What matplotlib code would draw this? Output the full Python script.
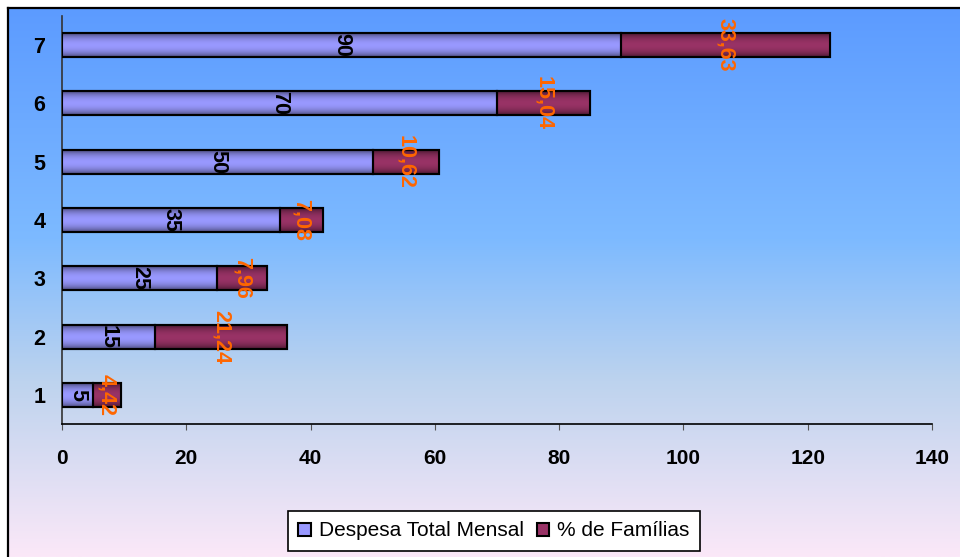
import numpy as np
import matplotlib
matplotlib.use('Agg')
import matplotlib.pyplot as plt
from matplotlib.colors import LinearSegmentedColormap, to_rgb

# Data
categories = ['1', '2', '3', '4', '5', '6', '7']
despesa = [5, 15, 25, 35, 50, 70, 90]
familias = [4.42, 21.24, 7.96, 7.08, 10.62, 15.04, 33.63]
x_ticks = [0, 20, 40, 60, 80, 100, 120, 140]
series_names = ['Despesa Total Mensal', '% de Famílias']

plt.rcParams['font.family'] = ['Liberation Sans', 'DejaVu Sans']

fig = plt.figure(figsize=(9.6, 5.57), dpi=100)
fig.patch.set_facecolor('white')

# Gradient background with the outer frame
bg = fig.add_axes([8/960, 0, 1 - 8/960, 1 - 8/557], zorder=0)
bg_cmap = LinearSegmentedColormap.from_list('bg', [
    (0.0, '#5C9BFF'), (0.42, '#7DBAFF'), (0.68, '#BDD3EE'), (1.0, '#FBE8F8')])
bg.imshow(np.linspace(0, 1, 256).reshape(-1, 1), cmap=bg_cmap, aspect='auto',
          extent=[0, 1, 0, 1])
bg.set_xlim(0, 1)
bg.set_ylim(0, 1)
bg.set_xticks([])
bg.set_yticks([])
bg.spines['right'].set_visible(False)
bg.spines['bottom'].set_visible(False)
bg.spines['top'].set_linewidth(1.6)
bg.spines['left'].set_linewidth(1.6)

ax = fig.add_axes([62/960, 1 - 424/557, 870/960, 408/557], zorder=1)
ax.set_facecolor('none')

y = np.arange(1, len(categories) + 1)
h = 0.41
colors = ['#9999FF', '#993366']


def shade(rects, color):
    base = np.array(to_rgb(color))
    t = np.linspace(0, 1, 64)
    prof = 0.55 + 0.45 * np.sin(np.pi * np.clip(t * 1.1 - 0.05, 0, 1)) ** 0.7
    img = np.clip(base[None, :] * prof[:, None], 0, 1)[:, None, :]
    for r in rects:
        im = ax.imshow(img, extent=[r.get_x(), r.get_x() + r.get_width(),
                                    r.get_y(), r.get_y() + r.get_height()],
                       aspect='auto', zorder=2.5, interpolation='bilinear')
        im.set_clip_path(r)


b1 = ax.barh(y, despesa, height=h, color=colors[0], edgecolor='black',
             linewidth=1.5, zorder=2, label=series_names[0])
b2 = ax.barh(y, familias, left=despesa, height=h, color=colors[1],
             edgecolor='black', linewidth=1.5, zorder=2, label=series_names[1])
shade(b1, colors[0])
shade(b2, colors[1])
ax.barh(y, despesa, height=h, fill=False, edgecolor='black', linewidth=1.5, zorder=3)
ax.barh(y, familias, left=despesa, height=h, fill=False, edgecolor='black',
        linewidth=1.5, zorder=3)

for yi, d, f in zip(y, despesa, familias):
    ax.text(d / 2, yi, str(d), rotation=270, ha='center', va='center',
            fontsize=15.5, fontweight='bold', color='black', zorder=4)
    ax.text(d + f / 2, yi, f'{f:.2f}'.replace('.', ','), rotation=270,
            ha='center', va='center', fontsize=15.5, fontweight='bold',
            color='#FF6600', zorder=4)

ax.set_xlim(0, 140)
ax.set_ylim(0.5, 7.5)
ax.set_xticks(x_ticks)
ax.set_yticks(y)
ax.set_yticklabels(categories)
ax.tick_params(axis='x', length=4, color='#555555', pad=14, labelsize=15)
ax.tick_params(axis='y', length=0, pad=12, labelsize=15.5)
for lab in ax.get_xticklabels() + ax.get_yticklabels():
    lab.set_fontweight('bold')
ax.spines['top'].set_visible(False)
ax.spines['right'].set_visible(False)
ax.spines['left'].set_color('#333333')
ax.spines['bottom'].set_color('black')
ax.spines['left'].set_linewidth(1.2)
ax.spines['bottom'].set_linewidth(1.2)

leg = fig.legend(handles=[b1, b2], labels=series_names, loc='center',
                 bbox_to_anchor=(494/960, 1 - 531/557), ncol=2, fontsize=15,
                 frameon=True, fancybox=False, framealpha=1, edgecolor='black',
                 handlelength=0.6, handleheight=0.6, handletextpad=0.4,
                 columnspacing=0.6, borderpad=0.5)
leg.get_frame().set_linewidth(1.2)

fig.savefig('out.png', dpi=100)
